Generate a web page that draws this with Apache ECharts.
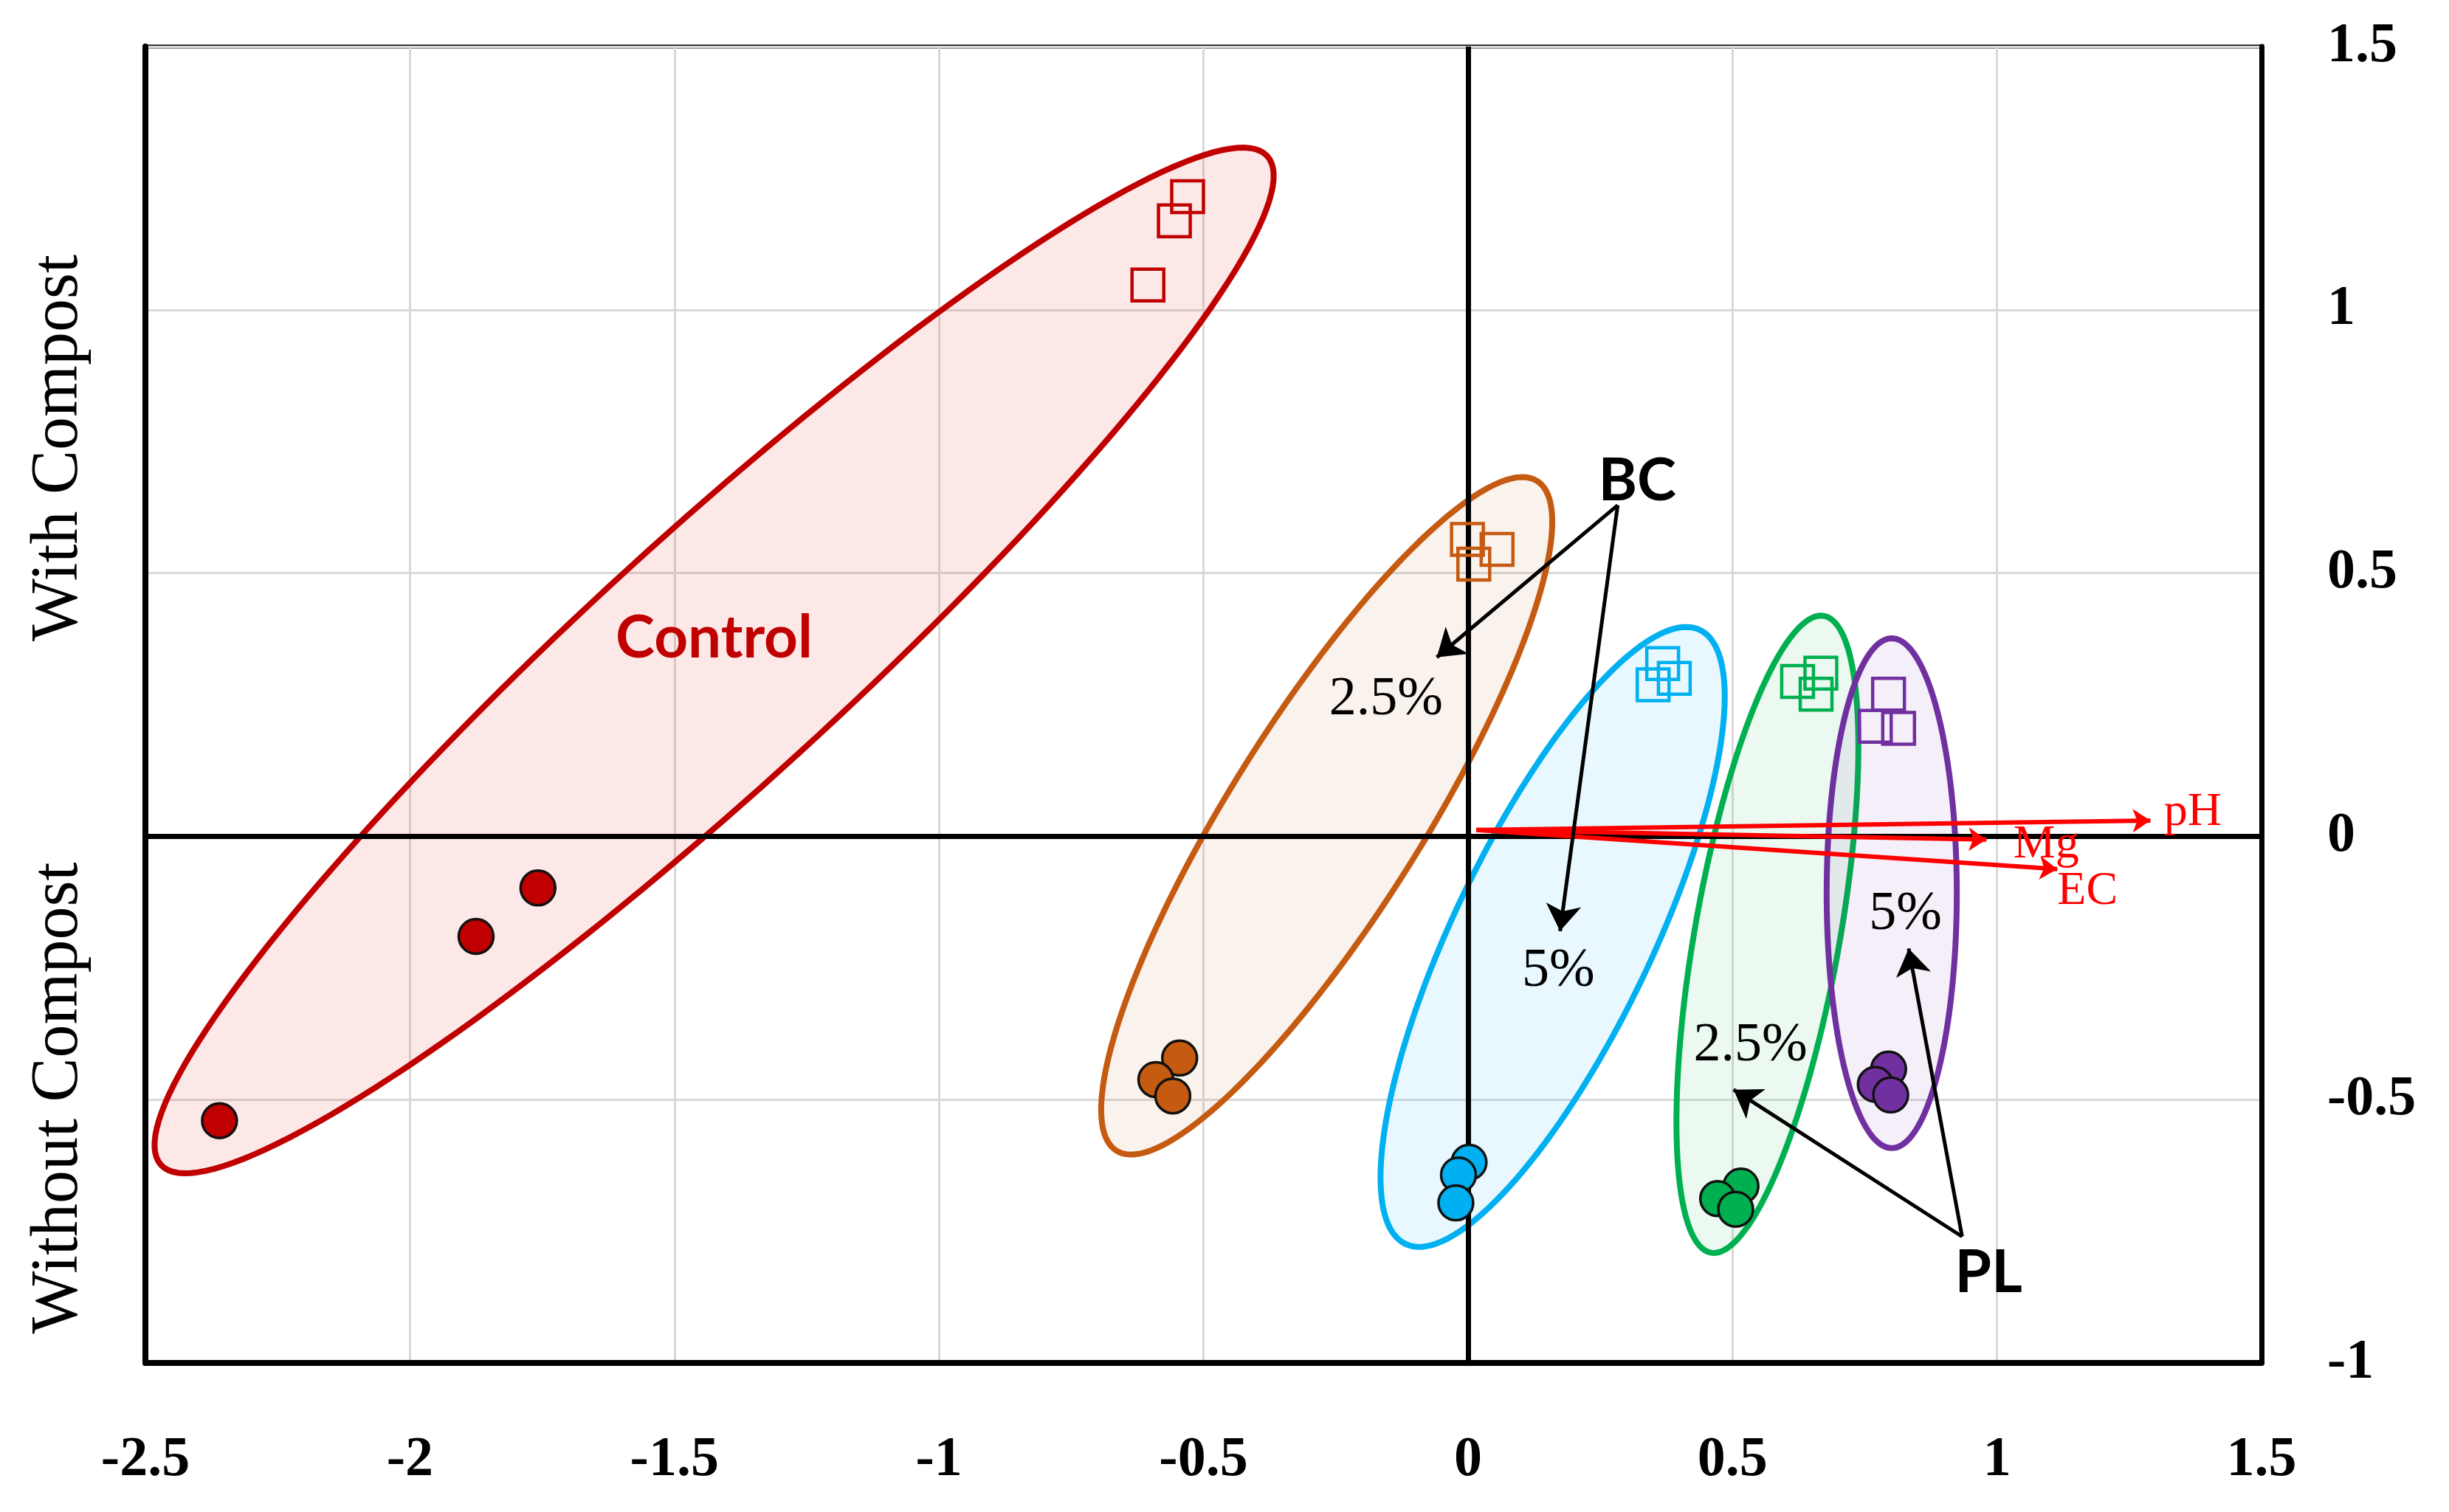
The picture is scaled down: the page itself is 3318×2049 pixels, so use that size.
<!DOCTYPE html>
<html>
<head>
<meta charset="utf-8">
<script src="https://cdn.jsdelivr.net/npm/echarts@6/dist/echarts.min.js"></script>
<style>
  html, body { margin: 0; padding: 0; background: #fff; }
  #chart { width: 3318px; height: 2049px; }
</style>
</head>
<body>
<div id="chart"></div>
<script>
// axis ticks
var xTicks = [-2.5, 1.5, 0.5];   // min, max, interval
var yTicks = [-1, 1.5, 0.5];

// scores: circles = without compost, squares = with compost
var ctrlCircles = [[-2.36, -0.54], [-1.875, -0.19], [-1.758, -0.098]];
var ctrlSquares = [[-0.53, 1.215], [-0.555, 1.169], [-0.605, 1.047]];
var bc25Circles = [[-0.545, -0.421], [-0.59, -0.462], [-0.558, -0.493]];
var bc25Squares = [[-0.001, 0.564], [0.055, 0.545], [0.011, 0.517]];
var bc5Circles = [[0.002, -0.619], [-0.018, -0.643], [-0.023, -0.696]];
var bc5Squares = [[0.368, 0.328], [0.39, 0.3], [0.35, 0.288]];
var pl25Circles = [[0.516, -0.664], [0.472, -0.688], [0.506, -0.708]];
var pl25Squares = [[0.623, 0.294], [0.667, 0.31], [0.658, 0.27]];
var pl5Circles = [[0.795, -0.442], [0.77, -0.471], [0.799, -0.491]];
var pl5Squares = [[0.795, 0.27], [0.77, 0.209], [0.814, 0.205]];

// group ellipses: centre x, centre y, semi-major, semi-minor, angle (deg)
var ellipses = [
    [-1.425, 0.334, 1.418, 0.238, 42.5],
    [-0.267, 0.039, 0.75, 0.182, 58],
    [0.16, -0.191, 0.646, 0.187, 64.5],
    [0.566, -0.186, 0.614, 0.137, 80],
    [0.801, -0.108, 0.484, 0.123, 90]
];

// variable loadings
var loadOrigin = [0.016, 0.012];
var loadNames = ['pH', 'Mg', 'EC'];
var loadEnds = [[1.29, 0.03], [0.98, -0.006], [1.114, -0.062]];
var loadLabelPos = [[1.37, 0.045], [1.093, -0.016], [1.171, -0.105]];

// annotation arrows
var arrowFrom = [[0.283, 0.629], [0.283, 0.629], [0.934, -0.76], [0.934, -0.76]];
var arrowTo = [[-0.059, 0.34], [0.174, -0.18], [0.502, -0.481], [0.833, -0.213]];

// annotation texts
var groupNames = ['Control', 'BC', 'PL'];
var groupNamePos = [[-1.425, 0.376], [0.32, 0.674], [0.984, -0.829]];
var doseNames = ['2.5%', '5%', '2.5%', '5%'];
var dosePos = [[-0.155, 0.259], [0.171, -0.256], [0.534, -0.398], [0.827, -0.149]];

var colors = ['#c00000', '#c55a11', '#00b0f0', '#00b050', '#7030a0'];
var fills = ['rgba(230,0,0,0.09)', 'rgba(197,90,17,0.08)', 'rgba(0,176,240,0.09)',
    'rgba(0,176,80,0.08)', 'rgba(112,48,160,0.08)'];

var chart = echarts.init(document.getElementById('chart'));

function circleSeries(data, color) {
    return {
        type: 'scatter', data: data, symbol: 'circle', symbolSize: 47, z: 10,
        itemStyle: { color: color, borderColor: '#111', borderWidth: 3.5, opacity: 1 }
    };
}
function squareSeries(data, color) {
    return {
        type: 'scatter', data: data, symbol: 'rect', symbolSize: 43, z: 10,
        itemStyle: { color: 'rgba(255,255,255,0)', borderColor: color, borderWidth: 4.5, opacity: 1 }
    };
}
// plain text placed at data coordinates
function textSeries(names, pos, font, fills) {
    return {
        type: 'custom', z: 12, silent: true,
        data: pos,
        renderItem: function(params, api) {
            var p = api.coord([api.value(0), api.value(1)]);
            return {
                type: 'text', x: p[0], y: p[1],
                style: {
                    text: names[params.dataIndex], font: font,
                    fill: fills[params.dataIndex], align: 'center', verticalAlign: 'middle'
                }
            };
        }
    };
}

var groupData = [ctrlCircles, bc25Circles, bc5Circles, pl25Circles, pl5Circles];
var squareData = [ctrlSquares, bc25Squares, bc5Squares, pl25Squares, pl5Squares];

var series = [];

// ellipses
series.push({
    type: 'custom', z: 2, silent: true,
    data: ellipses,
    renderItem: function(params, api) {
        var c = api.coord([api.value(0), api.value(1)]);
        var s = api.size([1, 1]);
        var a = api.value(2), b = api.value(3), th = api.value(4) * Math.PI / 180;
        var pts = [];
        for (var k = 0; k < 180; k++) {
            var t = k / 180 * Math.PI * 2;
            var dx = a * Math.cos(t) * Math.cos(th) - b * Math.sin(t) * Math.sin(th);
            var dy = a * Math.cos(t) * Math.sin(th) + b * Math.sin(t) * Math.cos(th);
            pts.push([c[0] + dx * s[0], c[1] - dy * s[1]]);
        }
        return {
            type: 'polygon', shape: { points: pts },
            style: { fill: fills[params.dataIndex], stroke: colors[params.dataIndex], lineWidth: 8 }
        };
    },
    markLine: {
        silent: true, symbol: ['none', 'none'],
        lineStyle: { color: '#000', width: 7, type: 'solid', opacity: 1 },
        label: { show: false },
        data: [{ xAxis: 0 }, { yAxis: 0 }]
    }
});

// loading arrows
series.push({
    type: 'lines', coordinateSystem: 'cartesian2d', z: 6, silent: true,
    symbol: ['none', 'arrow'], symbolSize: 24,
    lineStyle: { color: '#ff0000', width: 6, opacity: 1 },
    data: loadEnds.map(function(e) { return { coords: [loadOrigin, e] }; })
});

// black annotation arrows
series.push({
    type: 'lines', coordinateSystem: 'cartesian2d', z: 7, silent: true,
    symbol: ['none', 'arrow'], symbolSize: 36,
    lineStyle: { color: '#000', width: 5, opacity: 1 },
    data: arrowFrom.map(function(f, i) { return { coords: [f, arrowTo[i]] }; })
});

for (var g = 0; g < 5; g++) {
    series.push(circleSeries(groupData[g], colors[g]));
    series.push(squareSeries(squareData[g], colors[g]));
}

series.push(textSeries(loadNames, loadLabelPos, '64px "Liberation Serif"',
    ['#ff0000', '#ff0000', '#ff0000']));
series.push(textSeries(doseNames, dosePos, '74px "Liberation Serif"',
    ['#000', '#000', '#000', '#000']));
series.push(textSeries(groupNames, groupNamePos, 'bold 80px Lato',
    ['#c00000', '#000', '#000']));

var tickFont = { fontFamily: 'Liberation Serif', fontWeight: 'bold', fontSize: 76, color: '#000' };

var option = {
    animation: false,
    backgroundColor: '#fff',
    grid: {
        left: 197, right: 254, top: 63, bottom: 202,
        show: true, borderColor: '#000', borderWidth: 5, backgroundColor: 'transparent'
    },
    xAxis: {
        type: 'value', min: xTicks[0], max: xTicks[1], interval: xTicks[2],
        axisLine: { show: true, onZero: false, lineStyle: { color: '#000', width: 8 } },
        axisTick: { show: false },
        splitLine: { show: true, lineStyle: { color: '#d9d9d9', width: 3 } },
        axisLabel: Object.assign({ margin: 94 }, tickFont)
    },
    yAxis: [{
        type: 'value', position: 'right', min: yTicks[0], max: yTicks[1], interval: yTicks[2],
        axisLine: { show: true, onZero: false, lineStyle: { color: '#000', width: 7 } },
        axisTick: { show: false },
        splitLine: { show: true, lineStyle: { color: '#d9d9d9', width: 3 } },
        axisLabel: Object.assign({ margin: 89, align: 'left' }, tickFont)
    }, {
        type: 'value', position: 'left', min: yTicks[0], max: yTicks[1], interval: yTicks[2],
        axisLine: { show: true, onZero: false, lineStyle: { color: '#000', width: 8 } },
        axisTick: { show: false }, axisLabel: { show: false }, splitLine: { show: false }
    }],
    graphic: [{
        type: 'text', x: 80, y: 607, rotation: Math.PI / 2,
        style: { text: 'With Compost', fontFamily: 'Liberation Serif', fontSize: 90, fill: '#000',
            align: 'center', verticalAlign: 'middle' }
    }, {
        type: 'text', x: 80, y: 1488, rotation: Math.PI / 2,
        style: { text: 'Without Compost', fontFamily: 'Liberation Serif', fontSize: 90, fill: '#000',
            align: 'center', verticalAlign: 'middle' }
    }],
    series: series
};
chart.setOption(option);
</script>
</body>
</html>
